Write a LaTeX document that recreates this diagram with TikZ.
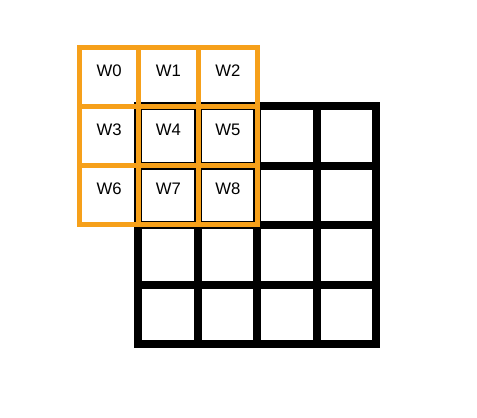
\documentclass[tikz,border=0pt]{standalone}
\usepackage{fontspec}
\setmainfont{Liberation Sans}
\usepackage{tikz}
\definecolor{kernel}{RGB}{246,160,26}

\begin{document}
\begin{tikzpicture}[x=0.02cm, y=-0.02cm,
			inputline/.style={line width=0.16cm, black, line cap=rect},
			kernelline/.style={line width=0.1cm, kernel, line cap=rect},
			weight/.style={inner sep=0pt, font=\fontsize{9.5}{11}\selectfont}
		]
		\useasboundingbox (0,0) rectangle (477,417);

		% input grid 4x4
		\foreach \i in {0,...,4} {
			\draw[inputline] (138+59.5*\i,106) -- (138+59.5*\i,344);
			\draw[inputline] (138,106+59.5*\i) -- (376,106+59.5*\i);
		}

		% kernel grid 3x3
		\foreach \i in {0,...,3} {
			\draw[kernelline] (79.5+59.3*\i,47) -- (79.5+59.3*\i,224.9);
			\draw[kernelline] (79.5,47+59.3*\i) -- (257.4,47+59.3*\i);
		}

		% weights
		\node[weight] (w0) at (109.2,70.5) {W0};
		\node[weight] (w1) at (168.5,70.5) {W1};
		\node[weight] (w2) at (227.8,70.5) {W2};
		\node[weight] (w3) at (109.2,129.8) {W3};
		\node[weight] (w4) at (168.5,129.8) {W4};
		\node[weight] (w5) at (227.8,129.8) {W5};
		\node[weight] (w6) at (109.2,189.1) {W6};
		\node[weight] (w7) at (168.5,189.1) {W7};
		\node[weight] (w8) at (227.8,189.1) {W8};
	\end{tikzpicture}
\end{document}
